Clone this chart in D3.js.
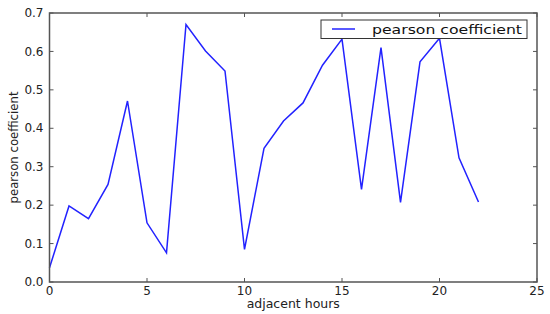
<!DOCTYPE html>
<html>
<head>
<meta charset="utf-8">
<script src="https://cdn.jsdelivr.net/npm/d3@7"></script>
<style>
  html, body { margin: 0; padding: 0; background: #fff; }
  svg { display: block; }
  .tick-label { font-family: "DejaVu Sans", sans-serif; font-size: 12px; fill: #222; }
</style>
</head>
<body>
<div id="chart"></div>
<script>
(function() {
  'use strict';

  // data
  var hours = [0, 1, 2, 3, 4, 5, 6, 7, 8, 9, 10, 11, 12, 13, 14, 15, 16, 17, 18, 19, 20, 21, 22];
  var pearson = [0.037, 0.198, 0.165, 0.254, 0.471, 0.154, 0.076, 0.670, 0.601, 0.549, 0.085,
    0.348, 0.419, 0.466, 0.564, 0.632, 0.241, 0.610, 0.207, 0.573, 0.634, 0.323, 0.208];
  var xTicks = [0, 5, 10, 15, 20, 25];
  var yTicks = [0.0, 0.1, 0.2, 0.3, 0.4, 0.5, 0.6, 0.7];
  var seriesName = 'pearson coefficient';

  var svgWidth = 550,
    svgHeight = 314,
    margin = { top: 13, right: 13, bottom: 32, left: 49.5 },
    width = svgWidth - margin.left - margin.right,
    height = svgHeight - margin.top - margin.bottom,
    tickLen = 4,
    frameColor = '#555';

  var svg = d3.select('#chart').append('svg')
    .attr('width', svgWidth)
    .attr('height', svgHeight);

  var g = svg.append('g')
    .attr('transform', 'translate(' + margin.left + ',' + margin.top + ')');

  var x = d3.scaleLinear().domain([0, 25]).range([0, width]);
  var y = d3.scaleLinear().domain([0, 0.7]).range([height, 0]);

  // data line
  var line = d3.line()
    .x(function(d, i) { return x(hours[i]); })
    .y(function(d) { return y(d); });

  g.append('path')
    .datum(pearson)
    .attr('fill', 'none')
    .attr('stroke', '#2222ff')
    .attr('stroke-width', 1.5)
    .attr('stroke-linejoin', 'miter')
    .attr('d', line);

  // ticks inside on all four sides
  var ticks = g.append('g')
    .attr('stroke', frameColor)
    .attr('stroke-width', 1);

  xTicks.forEach(function(t) {
    ticks.append('line').attr('x1', x(t)).attr('x2', x(t)).attr('y1', height).attr('y2', height - tickLen);
    ticks.append('line').attr('x1', x(t)).attr('x2', x(t)).attr('y1', 0).attr('y2', tickLen);
  });
  yTicks.forEach(function(t) {
    ticks.append('line').attr('x1', 0).attr('x2', tickLen).attr('y1', y(t)).attr('y2', y(t));
    ticks.append('line').attr('x1', width).attr('x2', width - tickLen).attr('y1', y(t)).attr('y2', y(t));
  });

  // frame
  g.append('rect')
    .attr('x', 0)
    .attr('y', 0)
    .attr('width', width)
    .attr('height', height)
    .attr('fill', 'none')
    .attr('stroke', frameColor)
    .attr('stroke-width', 1.5);

  // tick labels
  g.selectAll('.xlab')
    .data(xTicks)
    .enter().append('text')
    .classed('tick-label', true)
    .attr('x', function(d) { return x(d); })
    .attr('y', height + 13)
    .attr('text-anchor', 'middle')
    .text(function(d) { return d; });

  g.selectAll('.ylab')
    .data(yTicks)
    .enter().append('text')
    .classed('tick-label', true)
    .attr('x', -6)
    .attr('y', function(d) { return y(d); })
    .attr('dy', '0.35em')
    .attr('text-anchor', 'end')
    .text(function(d) { return d.toFixed(1); });

  // axis titles
  g.append('text')
    .attr('x', width / 2)
    .attr('y', height + 25.5)
    .attr('text-anchor', 'middle')
    .style('font-family', '"DejaVu Sans", sans-serif')
    .style('font-size', '12.5px')
    .style('fill', '#222')
    .text('adjacent hours');

  g.append('text')
    .attr('transform', 'translate(' + (-31.5) + ',' + (height / 2) + ') rotate(-90)')
    .attr('text-anchor', 'middle')
    .style('font-family', '"DejaVu Sans Condensed", "DejaVu Sans", sans-serif')
    .style('font-stretch', 'condensed')
    .style('font-size', '12.5px')
    .style('fill', '#222')
    .attr('textLength', 112)
    .attr('lengthAdjust', 'spacingAndGlyphs')
    .text('pearson coefficient');

  // legend
  var legendX = 321 - margin.left,
    legendY = 20 - margin.top;
  var legend = g.append('g')
    .attr('transform', 'translate(' + legendX + ',' + legendY + ')');

  legend.append('rect')
    .attr('x', 0)
    .attr('y', 0)
    .attr('width', 206)
    .attr('height', 18.5)
    .attr('fill', '#fff')
    .attr('stroke', '#333')
    .attr('stroke-width', 1);

  legend.append('line')
    .attr('x1', 11)
    .attr('x2', 34)
    .attr('y1', 9)
    .attr('y2', 9)
    .attr('stroke', '#2222ff')
    .attr('stroke-width', 1.5);

  legend.append('text')
    .attr('x', 51)
    .attr('y', 13.5)
    .style('font-family', '"DejaVu Sans", sans-serif')
    .style('font-size', '13px')
    .style('fill', '#111')
    .attr('textLength', 150)
    .attr('lengthAdjust', 'spacingAndGlyphs')
    .text(seriesName);
})();
</script>
</body>
</html>
